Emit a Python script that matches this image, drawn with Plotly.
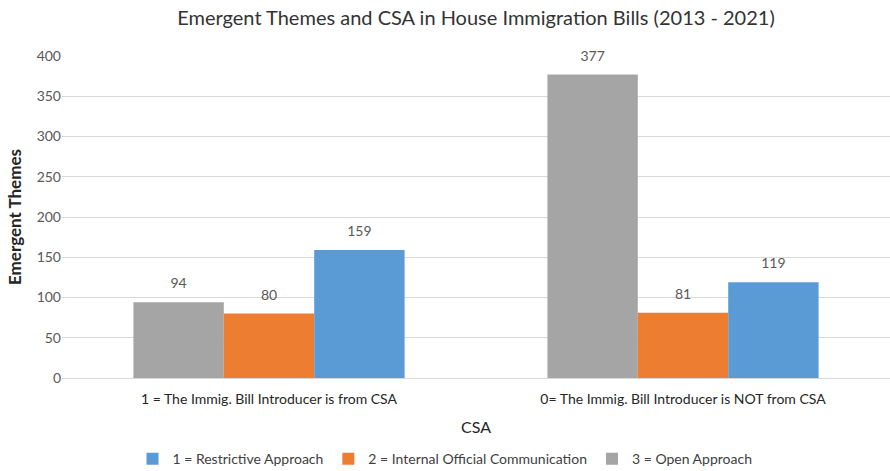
import plotly.graph_objects as go

categories = ["1 = The Immig. Bill Introducer is from CSA", "0= The Immig. Bill Introducer is NOT from CSA"]
open_approach = [94, 377]
internal_comm = [80, 81]
restrictive = [159, 119]

series_names = ["3 = Open Approach", "2 = Internal Official Communication", "1 = Restrictive Approach"]
series_values = [open_approach, internal_comm, restrictive]
series_colors = ["#A5A5A5", "#ED7D31", "#5B9BD5"]

FONT = "Lato, sans-serif"
GAP = 0.345

fig = go.Figure()
for i, (name, vals, col) in enumerate(zip(series_names, series_values, series_colors)):
    fig.add_trace(go.Bar(
        x=categories, y=vals, name=name, marker_color=col,
        marker_line_width=0, offsetgroup=str(i), alignmentgroup="a",
    ))
for i, vals in enumerate(series_values):
    fig.add_trace(go.Scatter(
        x=categories, y=vals, mode="markers+text", text=[str(v) for v in vals],
        textposition="top center", offsetgroup=str(i), alignmentgroup="a",
        marker=dict(size=15, opacity=0), showlegend=False, hoverinfo="skip",
        cliponaxis=False,
        textfont=dict(family=FONT, size=14, color="#595959"),
    ))

fig.update_layout(
    width=890, height=471,
    margin=dict(l=62, r=0, t=56, b=93),
    paper_bgcolor="white", plot_bgcolor="white",
    barmode="group", bargap=GAP, bargroupgap=0,
    scattermode="group", scattergap=GAP,
    font=dict(family=FONT, color="#595959", size=14),
    title=dict(text="Emergent Themes and CSA in House Immigration Bills (2013 - 2021)",
               xref="paper", x=0.5, xanchor="center", y=0.962, yanchor="middle",
               font=dict(family=FONT, size=20, color="#333333")),
    showlegend=True,
    legend=dict(orientation="h", xref="container", x=0.5, xanchor="center",
                yref="container", y=0.025, yanchor="middle",
                traceorder="reversed", font=dict(family=FONT, size=14, color="#404040"),
                itemwidth=30),
)
fig.update_yaxes(range=[0, 400], dtick=50, showgrid=True, gridcolor="#D9D9D9", gridwidth=1,
                 zeroline=False, showline=False, ticks="", ticklen=0,
                 tickfont=dict(family=FONT, size=14, color="#595959"),
                 title=dict(text="<b>Emergent Themes</b>", standoff=10,
                            font=dict(family=FONT, size=17, color="#262626")))
fig.update_xaxes(showline=True, linecolor="#D9D9D9", linewidth=1, ticks="",
                 ticklabelstandoff=8,
                 tickfont=dict(family=FONT, size=14, color="#262626"),
                 title=dict(text="CSA", standoff=16, font=dict(family=FONT, size=16, color="#262626")))

fig.write_html("out.html")
